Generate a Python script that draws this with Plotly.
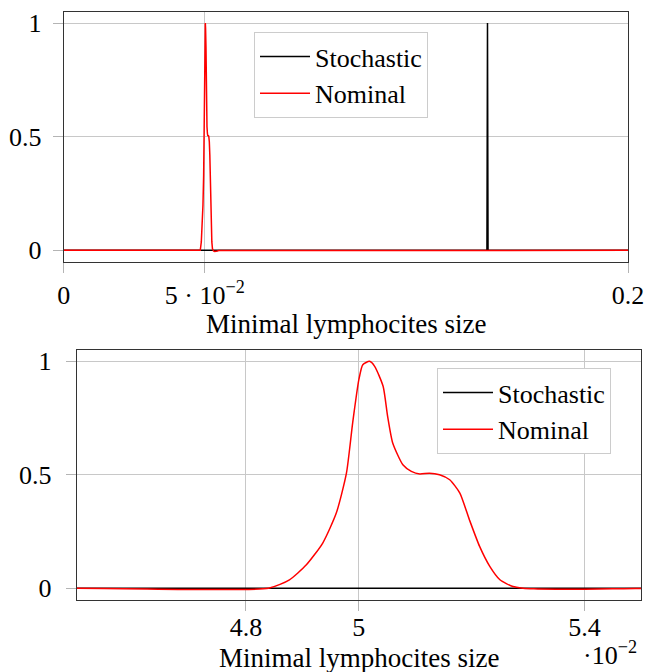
import plotly.graph_objects as go

# ---- data ----
nominal_x = [0.0, 0.045, 0.0484, 0.04877, 0.04907, 0.04936, 0.0496, 0.04978, 0.04989,
             0.0500, 0.05007, 0.05019, 0.05028, 0.05043, 0.05051, 0.0506, 0.05078,
             0.05093, 0.05108, 0.05125, 0.05143, 0.05161, 0.05179, 0.05196, 0.05214,
             0.05232, 0.0525, 0.05273, 0.05291, 0.0531, 0.0535, 0.0540, 0.0545, 0.0549, 0.2]
nominal_y = [0.0, 0.0, 0.0, 0.037, 0.103, 0.199, 0.331, 0.507, 0.728,
             0.919, 0.985, 1.0, 0.978, 0.89, 0.757, 0.64, 0.544,
             0.515, 0.503, 0.507, 0.5, 0.478, 0.419, 0.301, 0.184,
             0.096, 0.037, 0.007, 0.0, -0.003, -0.005, -0.005, -0.003, -0.001, 0.0]
stochastic_x = [0.0, 0.1500, 0.1502, 0.1504, 0.2]
stochastic_y = [0.0, 0.0, 1.0, 0.0, 0.0]

top_xticks = [0, 0.05, 0.2]
top_xlabels = ["0", "5 · 10<sup>−2</sup>", "0.2"]
bot_xticks = [0.048, 0.050, 0.054]
bot_xlabels = ["4.8", "5", "5.4"]
yticks = [0, 0.5, 1]
ylabels = ["0", "0.5", "1"]

FONT = "Liberation Serif"
W, H = 649, 672

fig = go.Figure()
# top
fig.add_trace(go.Scatter(x=stochastic_x, y=stochastic_y, mode="lines", name="Stochastic",
                         line=dict(color="black", width=1.5), xaxis="x", yaxis="y", legend="legend"))
fig.add_trace(go.Scatter(x=nominal_x, y=nominal_y, mode="lines", name="Nominal",
                         line=dict(color="red", width=1.5), xaxis="x", yaxis="y", legend="legend"))
# bottom
fig.add_trace(go.Scatter(x=stochastic_x, y=stochastic_y, mode="lines", name="Stochastic",
                         line=dict(color="black", width=1.5), xaxis="x2", yaxis="y2", legend="legend2"))
fig.add_trace(go.Scatter(x=nominal_x, y=nominal_y, mode="lines", name="Nominal",
                         line=dict(color="red", width=1.5, shape="spline", smoothing=0.6),
                         xaxis="x2", yaxis="y2", legend="legend2"))

def px_x(p):
    return p / W

def px_y(p):
    return 1 - p / H

axis_common = dict(showline=True, linecolor="#333", linewidth=1, mirror=True,
                   showgrid=True, gridcolor="#c8c8c8", gridwidth=1, zeroline=False,
                   ticks="outside", ticklen=10, tickcolor="#b4b4b4", automargin=False,
                   tickfont=dict(family=FONT, size=26, color="black"))

legend_common = dict(xanchor="left", yanchor="top", bgcolor="white", bordercolor="#cccccc",
                     borderwidth=1, itemwidth=50, tracegroupgap=0,
                     font=dict(family=FONT, size=26, color="black"))

fig.update_layout(
    width=W, height=H, margin=dict(l=0, r=0, t=0, b=0, autoexpand=False),
    paper_bgcolor="white", plot_bgcolor="white",
    font=dict(family=FONT, size=26, color="black"),
    xaxis=dict(domain=[px_x(63.7), px_x(628)], range=[0, 0.2], anchor="y",
               tickvals=top_xticks, ticktext=top_xlabels, ticklabelstandoff=0, **axis_common),
    yaxis=dict(domain=[px_y(261.7), px_y(11.7)], range=[-0.05, 1.05], anchor="x",
               tickvals=yticks, ticktext=ylabels, ticklabelstandoff=6, **axis_common),
    xaxis2=dict(domain=[px_x(76.7), px_x(641)], range=[0.045, 0.055], anchor="y2",
                tickvals=bot_xticks, ticktext=bot_xlabels, ticklabelstandoff=-6, **axis_common),
    yaxis2=dict(domain=[px_y(599.5), px_y(350)], range=[-0.05, 1.05], anchor="x2",
                tickvals=yticks, ticktext=ylabels, ticklabelstandoff=9, **axis_common),
    legend=dict(x=px_x(254), y=px_y(32), **legend_common),
    legend2=dict(x=px_x(437), y=px_y(368), **legend_common),
    annotations=[
        dict(text="Minimal lymphocites size", x=px_x(346), y=px_y(324), xref="paper", yref="paper",
             showarrow=False, xanchor="center", yanchor="middle", font=dict(family=FONT, size=27)),
        dict(text="Minimal lymphocites size", x=px_x(359), y=px_y(658), xref="paper", yref="paper",
             showarrow=False, xanchor="center", yanchor="middle", font=dict(family=FONT, size=27)),
        dict(text="·10<sup>−2</sup>", x=px_x(639), y=px_y(653), xref="paper", yref="paper",
             showarrow=False, xanchor="right", yanchor="middle", font=dict(family=FONT, size=26)),
    ],
)

fig.write_html("out.html", config={"displayModeBar": False},
               post_script="document.body.style.margin='0';document.body.style.overflow='hidden';")
